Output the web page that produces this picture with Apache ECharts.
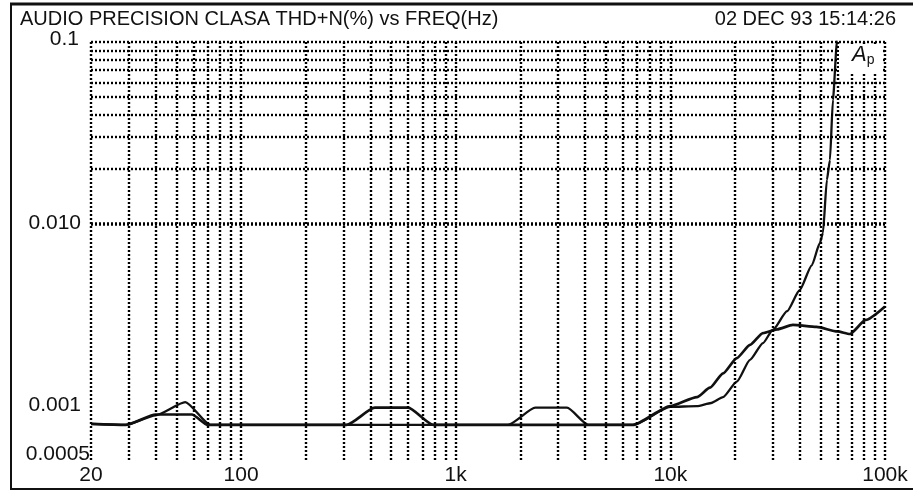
<!DOCTYPE html>
<html>
<head>
<meta charset="utf-8">
<script src="https://cdn.jsdelivr.net/npm/echarts@6/dist/echarts.min.js"></script>
<style>
  html, body { margin: 0; padding: 0; background: #fff; }
  #chart { width: 913px; height: 491px; }
</style>
</head>
<body>
<div id="chart"></div>
<script>
var myChart = echarts.init(document.getElementById('chart'));

// curve that shoots up past 0.1 near 60 kHz
var freqA = [20, 29, 40, 55, 72, 300, 1750, 2350, 3300, 4150, 6700, 10000, 13300, 15500, 17600, 20400, 23500, 27000, 30000, 35000, 40000, 45600, 49700, 51400, 53600, 55400, 57200, 59700, 61000];
var thdA  = [0.00079, 0.00078, 0.00088, 0.00104, 0.00078, 0.00078, 0.00078, 0.00097, 0.00097, 0.00078, 0.00078, 0.00098, 0.00099, 0.00103, 0.00111, 0.00135, 0.00178, 0.0022, 0.0026, 0.0033, 0.0043, 0.0059, 0.0078, 0.0089, 0.0174, 0.0224, 0.048, 0.1, 0.13];

// curve that levels off near 0.003
var freqB = [20, 29, 40, 59, 70, 310, 420, 600, 785, 6700, 10000, 13300, 15300, 17600, 20400, 23500, 27000, 31400, 37200, 48000, 60000, 68600, 81400, 100000];
var thdB  = [0.00079, 0.00078, 0.00089, 0.00089, 0.00078, 0.00078, 0.00097, 0.00097, 0.00078, 0.00078, 0.00099, 0.00111, 0.00125, 0.0015, 0.00182, 0.00215, 0.0025, 0.00262, 0.00277, 0.0027, 0.00255, 0.00247, 0.00295, 0.0035];

var xTicks = [20, 100, 1000, 10000, 100000];
var xTickText = ['20', '100', '1k', '10k', '100k'];
var yTicks = [0.0005, 0.001, 0.01, 0.1];
var yTickText = ['0.0005', '0.001', '0.010', '0.1'];

// dotted log grid (1..9 per decade)
var xGrid = [];
[10, 100, 1000, 10000].forEach(function (d) {
    for (var k = 1; k <= 9; k++) {
        if (d * k >= 20) xGrid.push(d * k);
    }
});
xGrid.push(100000);
var yGrid = [];
[0.0001, 0.001, 0.01].forEach(function (d) {
    for (var k = 1; k <= 9; k++) {
        var v = +(d * k).toPrecision(3);
        if (v >= 0.0005) yGrid.push(v);
    }
});
yGrid.push(0.1);

function pairs(xs, ys) {
    return xs.map(function (x, i) { return [x, ys[i]]; });
}

var gridMarks = xGrid.map(function (v) { return { xAxis: v }; })
    .concat(yGrid.map(function (v) { return { yAxis: v }; }));

var labelFont = 'Liberation Sans, Arial, sans-serif';

myChart.setOption({
    animation: false,
    backgroundColor: '#fff',
    textStyle: { fontFamily: labelFont },
    grid: { left: 91, right: 28, top: 42, bottom: 31 },
    xAxis: {
        type: 'log',
        logBase: 10,
        min: 20,
        max: 100000,
        axisLine: { show: false },
        axisTick: { show: false },
        splitLine: { show: false },
        axisLabel: {
            customValues: xTicks,
            margin: 5,
            color: '#111',
            fontSize: 21,
            fontFamily: labelFont,
            formatter: function (v) {
                var i = xTicks.indexOf(v);
                return i >= 0 ? xTickText[i] : '';
            }
        }
    },
    yAxis: {
        type: 'log',
        logBase: 10,
        min: 0.0005,
        max: 0.1,
        axisLine: { show: false },
        axisTick: { show: false },
        splitLine: { show: false },
        axisLabel: {
            customValues: yTicks,
            margin: 1,
            color: '#111',
            fontSize: 21,
            fontFamily: labelFont,
            formatter: function (v) {
                var i = -1;
                yTicks.forEach(function (t, j) { if (Math.abs(t - v) / t < 1e-6) i = j; });
                if (i < 0) return '';
                if (i === 0) return '{low|' + yTickText[i] + '}';
                if (i === 3) return '{top|' + yTickText[i] + '}';
                return '{n|' + yTickText[i] + '}';
            },
            rich: {
                n: { fontSize: 21, color: '#111', padding: [0, 9, 0, 0] },
                low: { fontSize: 21, color: '#111', padding: [0, 0, 12, 0] },
                top: { fontSize: 21, color: '#111', padding: [0, 11, 6, 0] }
            }
        }
    },
    graphic: [
        { type: 'line', z: 100, shape: { x1: 10, y1: 4, x2: 913, y2: 4 }, style: { stroke: '#111', lineWidth: 3 } },
        { type: 'line', z: 100, shape: { x1: 11, y1: 3, x2: 11, y2: 489 }, style: { stroke: '#111', lineWidth: 2 } },
        { type: 'line', z: 100, shape: { x1: 10, y1: 489, x2: 913, y2: 489 }, style: { stroke: '#111', lineWidth: 2 } },
        { type: 'text', z: 100, left: 20, top: 9, style: { text: 'AUDIO PRECISION CLASA THD+N(%) vs FREQ(Hz)', font: '20px ' + labelFont, fill: '#111' } },
        { type: 'text', z: 100, right: 17, top: 9, style: { text: '02 DEC 93 15:14:26', font: '20px ' + labelFont, fill: '#111' } },
        { type: 'rect', z: 100, shape: { x: 839, y: 44, width: 44, height: 28 }, style: { fill: '#fff' } },
        {
            type: 'text', z: 101, left: 852, top: 44,
            style: {
                text: '{a|A}{p|p}',
                rich: {
                    a: { fontSize: 22, fontStyle: 'italic', fontFamily: labelFont, fill: '#111' },
                    p: { fontSize: 14, fontFamily: labelFont, fill: '#111', padding: [10, 0, 0, 0] }
                }
            }
        }
    ],
    series: [
        {
            type: 'line',
            name: 'grid',
            data: [],
            silent: true,
            z: 1,
            markLine: {
                silent: true,
                symbol: 'none',
                label: { show: false },
                animation: false,
                lineStyle: { color: '#000', type: [2, 2], width: 2.4, opacity: 1 },
                emphasis: { disabled: true },
                data: gridMarks
            }
        },
        {
            type: 'line',
            name: 'A',
            data: pairs(freqA, thdA),
            showSymbol: false,
            smooth: 0.2,
            smoothMonotone: 'x',
            clip: true,
            z: 3,
            lineStyle: { color: '#111', width: 2.3 }
        },
        {
            type: 'line',
            name: 'B',
            data: pairs(freqB, thdB),
            showSymbol: false,
            smooth: 0.2,
            smoothMonotone: 'x',
            clip: true,
            z: 3,
            lineStyle: { color: '#111', width: 2.7 }
        }
    ]
});
</script>
</body>
</html>
